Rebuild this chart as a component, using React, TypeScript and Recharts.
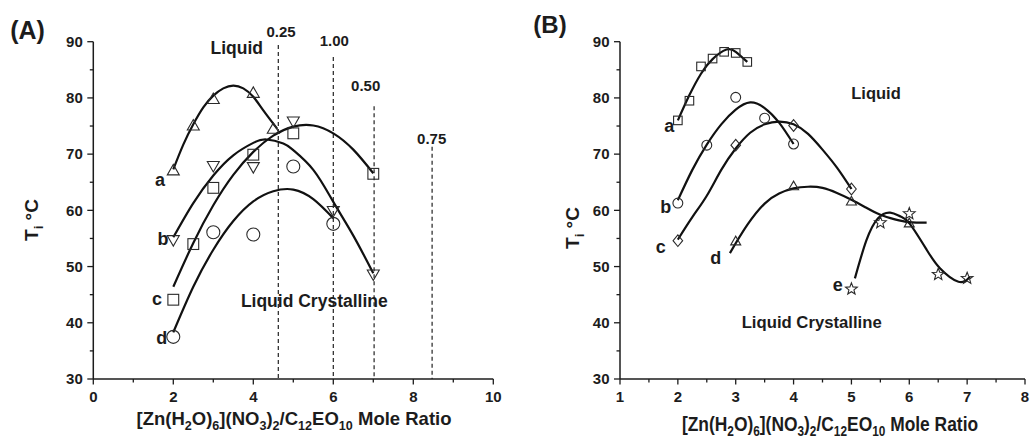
import React from 'react';
import { ComposedChart, Line, Scatter, XAxis, YAxis, ReferenceLine } from 'recharts';

// ---------- Panel A ----------
// measured points (open symbols)
const aA_x = [2, 2.5, 3, 4, 4.5];
const aA_y = [67.2, 75.2, 79.9, 81.0, 74.6];
const bA_x = [2, 3, 4, 5, 6, 7];
const bA_y = [54.6, 67.8, 67.6, 75.7, 59.8, 48.5];
const cA_x = [2, 2.5, 3, 4, 5, 7];
const cA_y = [44.1, 54.0, 64.0, 69.9, 73.7, 66.5];
const dA_x = [2, 3, 4, 5, 6];
const dA_y = [37.5, 56.1, 55.7, 67.8, 57.6];

// fitted curves
const aA_fitX = [2, 2.25, 2.5, 2.75, 3, 3.25, 3.5, 3.75, 4, 4.25, 4.6];
const aA_fitY = [67.3, 71.7, 75.3, 78.3, 80.4, 81.7, 82.2, 81.7, 80.2, 77.8, 74.5];
const bA_fitX = [2, 2.5, 3, 3.5, 4, 4.33, 4.75, 5, 5.5, 6, 6.5, 7];
const bA_fitY = [55.2, 61.3, 66.2, 69.8, 72.0, 72.6, 71.9, 70.7, 67.2, 61.5, 55.5, 48.8];
const cA_fitX = [2, 2.5, 3, 3.5, 4, 4.5, 5, 5.5, 6, 6.5, 7];
const cA_fitY = [46.4, 54.2, 60.9, 66.3, 70.4, 73.3, 74.9, 75.1, 73.7, 70.8, 66.6];
const dA_fitX = [2, 2.5, 3, 3.5, 4, 4.5, 5, 5.5, 6];
const dA_fitY = [38.3, 46.4, 53.0, 58.1, 61.6, 63.4, 63.7, 62.0, 58.6];

// dashed phase boundaries
const boundX = [4.625, 6.0, 7.02, 8.47];
const boundTop = [89.4, 87.3, 78.5, 71.3];
const boundLabels = ['0.25', '1.00', '0.50', '0.75'];

const xTicksA = [0, 1, 2, 3, 4, 5, 6, 7, 8, 9, 10];
const xMajorA = [0, 2, 4, 6, 8, 10];

// ---------- Panel B ----------
const aB_x = [2, 2.2, 2.4, 2.6, 2.8, 3, 3.2];
const aB_y = [76.0, 79.5, 85.6, 87.0, 88.2, 88.0, 86.4];
const bB_x = [2, 2.5, 3, 3.5, 4];
const bB_y = [61.3, 71.6, 80.1, 76.4, 71.8];
const cB_x = [2, 3, 4, 5];
const cB_y = [54.6, 71.6, 75.1, 63.8];
const dB_x = [3, 4, 5, 6];
const dB_y = [54.6, 64.4, 61.7, 57.8];
const eB_x = [5, 5.5, 6, 6.5, 7];
const eB_y = [46.0, 57.8, 59.4, 48.6, 47.9];

const aB_fitX = [2, 2.2, 2.4, 2.6, 2.84, 3.0, 3.2];
const aB_fitY = [76.0, 80.5, 84.3, 86.9, 88.6, 88.2, 86.4];
const bB_fitX = [2, 2.25, 2.5, 2.75, 3, 3.25, 3.5, 3.75, 4];
const bB_fitY = [61.8, 67.2, 71.7, 75.3, 77.9, 79.2, 78.2, 75.6, 71.8];
const cB_fitX = [2, 2.25, 2.5, 2.75, 3, 3.25, 3.5, 3.75, 4, 4.25, 4.5, 4.75, 5];
const cB_fitY = [54.8, 58.8, 62.6, 67.2, 71.0, 73.8, 75.3, 75.8, 75.3, 73.6, 70.8, 67.6, 63.8];
const dB_fitX = [2.9, 3.2, 3.5, 3.75, 4, 4.25, 4.5, 4.75, 5, 5.25, 5.5, 5.75, 6, 6.3];
const dB_fitY = [52.4, 57.4, 61.2, 63.0, 63.9, 64.2, 64.0, 63.1, 61.9, 60.5, 59.2, 58.4, 57.9, 57.8];
const eB_fitX = [5.06, 5.26, 5.46, 5.67, 5.85, 6.01, 6.3, 6.53, 6.85, 7.05];
const eB_fitY = [47.9, 54.7, 58.6, 59.6, 58.9, 57.6, 53.0, 49.7, 47.3, 48.2];

const xTicksB = [1, 1.5, 2, 2.5, 3, 3.5, 4, 4.5, 5, 5.5, 6, 6.5, 7, 7.5, 8];
const xMajorB = [1, 2, 3, 4, 5, 6, 7, 8];

const yTicks = [30, 35, 40, 45, 50, 55, 60, 65, 70, 75, 80, 85, 90];
const yMajor = [30, 40, 50, 60, 70, 80, 90];

const FONT = '"Liberation Sans", Arial, Helvetica, sans-serif';
const INK = '#1c1c1c';

const pts = (xs: number[], ys: number[]) => xs.map((x, i) => ({ x, y: ys[i] }));

type Kind = 'circle' | 'square' | 'up' | 'down' | 'diamond' | 'star';

function Mark({ cx, cy, kind, s }: { cx?: number; cy?: number; kind: Kind; s: number }) {
  if (cx == null || cy == null) return null;
  const st = { fill: 'none', stroke: '#2a2a2a', strokeWidth: 1.1 };
  switch (kind) {
    case 'circle':
      return <circle cx={cx} cy={cy} r={s * 0.52} {...st} />;
    case 'square':
      return <rect x={cx - s * 0.45} y={cy - s * 0.45} width={s * 0.9} height={s * 0.9} {...st} />;
    case 'up':
      return <path d={`M${cx - s / 2},${cy + s * 0.42}L${cx + s / 2},${cy + s * 0.42}L${cx},${cy - s * 0.45}Z`} {...st} />;
    case 'down':
      return <path d={`M${cx - s / 2},${cy - s * 0.42}L${cx + s / 2},${cy - s * 0.42}L${cx},${cy + s * 0.45}Z`} {...st} />;
    case 'diamond':
      return <path d={`M${cx},${cy - s * 0.58}L${cx + s * 0.48},${cy}L${cx},${cy + s * 0.58}L${cx - s * 0.48},${cy}Z`} {...st} />;
    case 'star': {
      let d = '';
      for (let k = 0; k < 10; k++) {
        const r = k % 2 === 0 ? s * 0.56 : s * 0.24;
        const a = -Math.PI / 2 + (k * Math.PI) / 5;
        d += `${k === 0 ? 'M' : 'L'}${cx + r * Math.cos(a)},${cy + r * Math.sin(a)}`;
      }
      return <path d={d + 'Z'} {...st} />;
    }
  }
  return null;
}

function XTick({ x, y, payload, majors }: any) {
  const major = majors.includes(payload.value);
  return (
    <g>
      <line x1={x} x2={x} y1={y} y2={y + (major ? 5.5 : 3.5)} stroke={INK} strokeWidth={1.3} />
      {major && (
        <text x={x} y={y + 23} textAnchor="middle" fontFamily={FONT} fontWeight="bold" fontSize={15} fill={INK}>
          {payload.value}
        </text>
      )}
    </g>
  );
}

function YTick({ x, y, payload }: any) {
  const major = yMajor.includes(payload.value);
  return (
    <g>
      <line x1={x} x2={x - (major ? 6 : 3.5)} y1={y} y2={y} stroke={INK} strokeWidth={1.3} />
      {major && (
        <text x={x - 10.5} y={y + 5.3} textAnchor="end" fontFamily={FONT} fontWeight="bold" fontSize={15} fill={INK}>
          {payload.value}
        </text>
      )}
    </g>
  );
}

function Txt({ x, y, size, children, extra = '' }: { x: number; y: number; size: number; children: React.ReactNode; extra?: string }) {
  return (
    <div
      style={{
        position: 'absolute',
        left: x,
        top: y,
        transform: `translate(-50%, -50%) ${extra}`,
        fontFamily: FONT,
        fontWeight: 'bold',
        fontSize: size,
        lineHeight: 1,
        whiteSpace: 'nowrap',
        color: INK,
      }}
    >
      {children}
    </div>
  );
}

const Sub = ({ children, drop = 0.35 }: { children: React.ReactNode; drop?: number }) => (
  <span style={{ fontSize: '0.68em', position: 'relative', top: `${drop}em` }}>{children}</span>
);

const XTitle = ({ drop }: { drop?: number }) => (
  <>
    [Zn(H<Sub drop={drop}>2</Sub>O)<Sub drop={drop}>6</Sub>](NO<Sub drop={drop}>3</Sub>)<Sub drop={drop}>2</Sub>/C
    <Sub drop={drop}>12</Sub>EO<Sub drop={drop}>10</Sub> Mole Ratio
  </>
);

const fitLine = (xs: number[], ys: number[], key: string) => (
  <Line
    key={key}
    data={pts(xs, ys)}
    dataKey="y"
    type="natural"
    stroke="#111"
    strokeWidth={2.2}
    dot={false}
    activeDot={false}
    isAnimationActive={false}
  />
);

const marks = (xs: number[], ys: number[], kind: Kind, s: number, key: string) => (
  <Scatter
    key={key}
    data={pts(xs, ys)}
    isAnimationActive={false}
    shape={(p: any) => <Mark cx={p.cx} cy={p.cy} kind={kind} s={s} />}
  />
);

const axisLine = { stroke: INK, strokeWidth: 1.5 };

export default function App() {
  return (
    <div style={{ position: 'absolute', left: 0, top: 0, width: 1030, height: 443, background: '#fff', overflow: 'hidden' }}>
      <ComposedChart
        width={510}
        height={443}
        margin={{ top: 41.7, right: 16.7, bottom: 34, left: 33.3 }}
        style={{ position: 'absolute', left: 0, top: 0 }}
      >
        <XAxis
          type="number"
          dataKey="x"
          domain={[0, 10]}
          ticks={xTicksA}
          interval={0}
          height={30}
          tickSize={0}
          tickMargin={0}
          tickLine={false}
          axisLine={axisLine}
          tick={(p: any) => <XTick {...p} majors={xMajorA} />}
        />
        <YAxis
          type="number"
          dataKey="y"
          domain={[30, 90]}
          ticks={yTicks}
          interval={0}
          width={60}
          tickSize={0}
          tickMargin={0}
          tickLine={false}
          axisLine={axisLine}
          tick={(p: any) => <YTick {...p} />}
        />
        {boundX.map((bx, i) => (
          <ReferenceLine
            key={boundLabels[i]}
            segment={[
              { x: bx, y: boundTop[i] },
              { x: bx, y: 30 },
            ]}
            stroke="#222"
            strokeWidth={1.2}
            strokeDasharray="4 3"
          />
        ))}
        {fitLine(aA_fitX, aA_fitY, 'fa')}
        {fitLine(bA_fitX, bA_fitY, 'fb')}
        {fitLine(cA_fitX, cA_fitY, 'fc')}
        {fitLine(dA_fitX, dA_fitY, 'fd')}
        {marks(aA_x, aA_y, 'up', 12, 'ma')}
        {marks(bA_x, bA_y, 'down', 12, 'mb')}
        {marks(cA_x, cA_y, 'square', 12, 'mc')}
        {marks(dA_x, dA_y, 'circle', 12.5, 'md')}
      </ComposedChart>

      <ComposedChart
        width={520}
        height={443}
        margin={{ top: 41.7, right: 5, bottom: 34, left: 50 }}
        style={{ position: 'absolute', left: 510, top: 0 }}
      >
        <XAxis
          type="number"
          dataKey="x"
          domain={[1, 8]}
          ticks={xTicksB}
          interval={0}
          height={30}
          tickSize={0}
          tickMargin={0}
          tickLine={false}
          axisLine={axisLine}
          tick={(p: any) => <XTick {...p} majors={xMajorB} />}
        />
        <YAxis
          type="number"
          dataKey="y"
          domain={[30, 90]}
          ticks={yTicks}
          interval={0}
          width={60}
          tickSize={0}
          tickMargin={0}
          tickLine={false}
          axisLine={axisLine}
          tick={(p: any) => <YTick {...p} />}
        />
        {fitLine(aB_fitX, aB_fitY, 'fa')}
        {fitLine(bB_fitX, bB_fitY, 'fb')}
        {fitLine(cB_fitX, cB_fitY, 'fc')}
        {fitLine(dB_fitX, dB_fitY, 'fd')}
        {fitLine(eB_fitX, eB_fitY, 'fe')}
        {marks(aB_x, aB_y, 'square', 9.5, 'ma')}
        {marks(bB_x, bB_y, 'circle', 9.5, 'mb')}
        {marks(cB_x, cB_y, 'diamond', 10, 'mc')}
        {marks(dB_x, dB_y, 'up', 10, 'md')}
        {marks(eB_x, eB_y, 'star', 11, 'me')}
      </ComposedChart>

      {/* panel A text */}
      <Txt x={27.5} y={29.5} size={25}>(A)</Txt>
      <Txt x={236.7} y={49.3} size={17.5}>Liquid</Txt>
      <Txt x={314.3} y={301.7} size={17.5}>Liquid Crystalline</Txt>
      <Txt x={281} y={31} size={15}>{boundLabels[0]}</Txt>
      <Txt x={334.3} y={40} size={15}>{boundLabels[1]}</Txt>
      <Txt x={365.7} y={85} size={15}>{boundLabels[2]}</Txt>
      <Txt x={431.7} y={138.3} size={15}>{boundLabels[3]}</Txt>
      <Txt x={160} y={180} size={18}>a</Txt>
      <Txt x={163} y={239} size={18}>b</Txt>
      <Txt x={157} y={298.5} size={18}>c</Txt>
      <Txt x={161.7} y={338} size={18}>d</Txt>
      <Txt x={294} y={419.4} size={18.5}>
        <XTitle />
      </Txt>
      <Txt x={31} y={220} size={19} extra="rotate(-90deg)">
        T<Sub>i</Sub> °C
      </Txt>

      {/* panel B text */}
      <Txt x={550} y={25} size={24}>(B)</Txt>
      <Txt x={876} y={93} size={16.5}>Liquid</Txt>
      <Txt x={811.7} y={323} size={16.7}>Liquid Crystalline</Txt>
      <Txt x={669.3} y={126.2} size={18}>a</Txt>
      <Txt x={665.7} y={206.7} size={18}>b</Txt>
      <Txt x={660.7} y={246.8} size={18}>c</Txt>
      <Txt x={715.7} y={258.3} size={18}>d</Txt>
      <Txt x={837.7} y={284.5} size={18}>e</Txt>
      <Txt x={830} y={425} size={17.4} extra="scale(1, 1.2)">
        <XTitle drop={0.3} />
      </Txt>
      <Txt x={571.5} y={228} size={19} extra="rotate(-90deg)">
        T<Sub>i</Sub> °C
      </Txt>
    </div>
  );
}
